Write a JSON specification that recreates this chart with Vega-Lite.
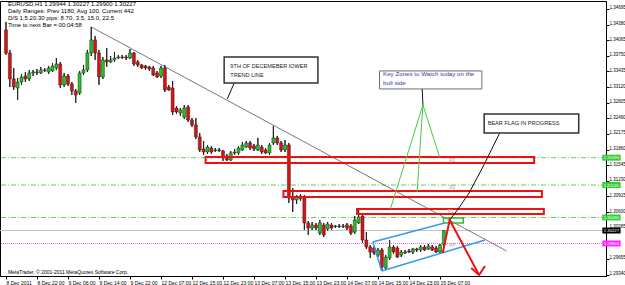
{
  "$schema": "https://vega.github.io/schema/vega-lite/v6.json",
  "width": 606,
  "height": 275,
  "autosize": {"type": "none"},
  "padding": {"left": 0, "top": 1, "right": 19, "bottom": 9},
  "background": "#ffffff",
  "config": {"font": "Liberation Sans", "view": {"stroke": "#000000", "strokeWidth": 1}, "axis": {"labelOverlap": false, "labelBound": false, "labelFlush": false}},
  "resolve": {"axis": {"x": "independent", "y": "independent"}},
  "datasets": {
    "candles": [
      {"i":0,"o":1.34272,"h":1.34433,"l":1.33768,"c":1.33808},
      {"i":1,"o":1.33808,"h":1.33869,"l":1.33122,"c":1.33284},
      {"i":2,"o":1.33284,"h":1.33505,"l":1.33062,"c":1.33122},
      {"i":3,"o":1.33102,"h":1.33304,"l":1.32860,"c":1.33223},
      {"i":4,"o":1.33223,"h":1.33384,"l":1.33163,"c":1.33324},
      {"i":5,"o":1.33344,"h":1.33425,"l":1.33223,"c":1.33284},
      {"i":6,"o":1.33284,"h":1.33465,"l":1.33243,"c":1.33405},
      {"i":7,"o":1.33405,"h":1.33465,"l":1.33344,"c":1.33425},
      {"i":8,"o":1.33425,"h":1.33485,"l":1.33364,"c":1.33415},
      {"i":9,"o":1.33405,"h":1.33526,"l":1.33384,"c":1.33465},
      {"i":10,"o":1.33465,"h":1.33505,"l":1.33425,"c":1.33455},
      {"i":11,"o":1.33425,"h":1.33546,"l":1.33384,"c":1.33505},
      {"i":12,"o":1.33445,"h":1.33606,"l":1.33425,"c":1.33546},
      {"i":13,"o":1.33505,"h":1.33707,"l":1.33465,"c":1.33586},
      {"i":14,"o":1.33586,"h":1.33626,"l":1.33102,"c":1.33163},
      {"i":15,"o":1.33163,"h":1.33405,"l":1.33122,"c":1.33344},
      {"i":16,"o":1.33344,"h":1.33384,"l":1.33142,"c":1.33183},
      {"i":17,"o":1.33183,"h":1.33223,"l":1.32961,"c":1.33042},
      {"i":18,"o":1.33042,"h":1.33082,"l":1.32800,"c":1.32961},
      {"i":19,"o":1.33001,"h":1.33445,"l":1.32961,"c":1.33405},
      {"i":20,"o":1.33405,"h":1.33566,"l":1.33364,"c":1.33465},
      {"i":21,"o":1.33465,"h":1.33869,"l":1.33425,"c":1.33808},
      {"i":22,"o":1.33808,"h":1.34332,"l":1.33747,"c":1.34070},
      {"i":23,"o":1.34070,"h":1.34151,"l":1.33667,"c":1.33808},
      {"i":24,"o":1.33808,"h":1.33869,"l":1.33163,"c":1.33324},
      {"i":25,"o":1.33324,"h":1.33727,"l":1.33284,"c":1.33667},
      {"i":26,"o":1.33667,"h":1.33909,"l":1.33526,"c":1.33626},
      {"i":27,"o":1.33626,"h":1.33747,"l":1.33606,"c":1.33667},
      {"i":28,"o":1.33667,"h":1.33828,"l":1.33626,"c":1.33707},
      {"i":29,"o":1.33707,"h":1.33768,"l":1.33687,"c":1.33727},
      {"i":30,"o":1.33727,"h":1.33768,"l":1.33687,"c":1.33717},
      {"i":31,"o":1.33727,"h":1.33768,"l":1.33667,"c":1.33707},
      {"i":32,"o":1.33707,"h":1.33889,"l":1.33687,"c":1.33808},
      {"i":33,"o":1.33808,"h":1.33828,"l":1.33546,"c":1.33586},
      {"i":34,"o":1.33626,"h":1.33667,"l":1.33526,"c":1.33566},
      {"i":35,"o":1.33566,"h":1.33586,"l":1.33485,"c":1.33505},
      {"i":36,"o":1.33546,"h":1.33566,"l":1.33465,"c":1.33505},
      {"i":37,"o":1.33526,"h":1.33546,"l":1.33445,"c":1.33485},
      {"i":38,"o":1.33505,"h":1.33546,"l":1.33344,"c":1.33364},
      {"i":39,"o":1.33405,"h":1.33445,"l":1.33304,"c":1.33324},
      {"i":40,"o":1.33344,"h":1.33546,"l":1.33304,"c":1.33505},
      {"i":41,"o":1.33505,"h":1.33566,"l":1.33021,"c":1.33062},
      {"i":42,"o":1.33122,"h":1.33163,"l":1.33042,"c":1.33062},
      {"i":43,"o":1.33102,"h":1.33243,"l":1.32557,"c":1.32618},
      {"i":44,"o":1.32699,"h":1.32739,"l":1.32578,"c":1.32618},
      {"i":45,"o":1.32598,"h":1.32699,"l":1.32537,"c":1.32658},
      {"i":46,"o":1.32517,"h":1.32759,"l":1.32477,"c":1.32699},
      {"i":47,"o":1.32719,"h":1.32759,"l":1.32416,"c":1.32457},
      {"i":48,"o":1.32457,"h":1.32497,"l":1.32315,"c":1.32356},
      {"i":49,"o":1.32356,"h":1.32497,"l":1.32073,"c":1.32114},
      {"i":50,"o":1.32114,"h":1.32194,"l":1.31811,"c":1.31852},
      {"i":51,"o":1.31872,"h":1.32033,"l":1.31751,"c":1.31811},
      {"i":52,"o":1.31811,"h":1.31952,"l":1.31771,"c":1.31912},
      {"i":53,"o":1.31892,"h":1.31932,"l":1.31771,"c":1.31811},
      {"i":54,"o":1.31841,"h":1.31892,"l":1.31811,"c":1.31852},
      {"i":55,"o":1.31852,"h":1.31892,"l":1.31811,"c":1.31841},
      {"i":56,"o":1.31831,"h":1.31852,"l":1.31630,"c":1.31690},
      {"i":57,"o":1.31731,"h":1.31771,"l":1.31630,"c":1.31650},
      {"i":58,"o":1.31650,"h":1.31831,"l":1.31630,"c":1.31791},
      {"i":59,"o":1.31811,"h":1.31872,"l":1.31751,"c":1.31791},
      {"i":60,"o":1.31791,"h":1.31932,"l":1.31751,"c":1.31892},
      {"i":61,"o":1.31852,"h":1.32013,"l":1.31831,"c":1.31952},
      {"i":62,"o":1.31912,"h":1.32033,"l":1.31892,"c":1.31993},
      {"i":63,"o":1.31993,"h":1.32033,"l":1.31852,"c":1.31892},
      {"i":64,"o":1.31932,"h":1.31973,"l":1.31831,"c":1.31872},
      {"i":65,"o":1.31852,"h":1.32094,"l":1.31831,"c":1.31952},
      {"i":66,"o":1.31912,"h":1.31952,"l":1.31771,"c":1.31811},
      {"i":67,"o":1.31852,"h":1.31892,"l":1.31771,"c":1.31791},
      {"i":68,"o":1.31791,"h":1.31993,"l":1.31751,"c":1.31952},
      {"i":69,"o":1.31993,"h":1.32336,"l":1.31952,"c":1.32094},
      {"i":70,"o":1.32094,"h":1.32134,"l":1.31952,"c":1.31993},
      {"i":71,"o":1.31993,"h":1.32033,"l":1.31811,"c":1.31852},
      {"i":72,"o":1.31852,"h":1.32053,"l":1.31811,"c":1.31952},
      {"i":73,"o":1.31952,"h":1.31993,"l":1.30783,"c":1.30883},
      {"i":74,"o":1.30904,"h":1.31085,"l":1.30601,"c":1.30843},
      {"i":75,"o":1.30843,"h":1.30944,"l":1.30762,"c":1.30904},
      {"i":76,"o":1.30863,"h":1.30964,"l":1.30823,"c":1.30924},
      {"i":77,"o":1.30904,"h":1.30944,"l":1.30238,"c":1.30379},
      {"i":78,"o":1.30379,"h":1.30419,"l":1.30137,"c":1.30278},
      {"i":79,"o":1.30278,"h":1.30399,"l":1.30238,"c":1.30339},
      {"i":80,"o":1.30339,"h":1.30379,"l":1.30238,"c":1.30278},
      {"i":81,"o":1.30177,"h":1.30440,"l":1.30137,"c":1.30379},
      {"i":82,"o":1.30339,"h":1.30379,"l":1.30097,"c":1.30137},
      {"i":83,"o":1.30258,"h":1.30399,"l":1.30218,"c":1.30359},
      {"i":84,"o":1.30339,"h":1.30379,"l":1.30238,"c":1.30278},
      {"i":85,"o":1.30308,"h":1.30339,"l":1.30278,"c":1.30319},
      {"i":86,"o":1.30319,"h":1.30359,"l":1.30278,"c":1.30308},
      {"i":87,"o":1.30308,"h":1.30359,"l":1.30278,"c":1.30319},
      {"i":88,"o":1.30339,"h":1.30379,"l":1.30238,"c":1.30278},
      {"i":89,"o":1.30319,"h":1.30359,"l":1.30137,"c":1.30177},
      {"i":90,"o":1.30198,"h":1.30520,"l":1.30157,"c":1.30440},
      {"i":91,"o":1.30379,"h":1.30641,"l":1.30359,"c":1.30500},
      {"i":92,"o":1.30520,"h":1.30581,"l":1.29976,"c":1.30036},
      {"i":93,"o":1.30036,"h":1.30198,"l":1.29855,"c":1.29895},
      {"i":94,"o":1.29895,"h":1.29935,"l":1.29673,"c":1.29794},
      {"i":95,"o":1.29875,"h":1.29915,"l":1.29734,"c":1.29774},
      {"i":96,"o":1.29734,"h":1.29875,"l":1.29693,"c":1.29835},
      {"i":97,"o":1.29835,"h":1.29875,"l":1.29431,"c":1.29492},
      {"i":98,"o":1.29471,"h":1.29734,"l":1.29431,"c":1.29693},
      {"i":99,"o":1.29673,"h":1.30036,"l":1.29633,"c":1.29895},
      {"i":100,"o":1.29895,"h":1.29935,"l":1.29754,"c":1.29794},
      {"i":101,"o":1.29875,"h":1.29915,"l":1.29673,"c":1.29693},
      {"i":102,"o":1.29734,"h":1.29835,"l":1.29693,"c":1.29794},
      {"i":103,"o":1.29774,"h":1.29835,"l":1.29754,"c":1.29794},
      {"i":104,"o":1.29814,"h":1.29855,"l":1.29774,"c":1.29794},
      {"i":105,"o":1.29794,"h":1.29875,"l":1.29754,"c":1.29855},
      {"i":106,"o":1.29855,"h":1.29875,"l":1.29794,"c":1.29835},
      {"i":107,"o":1.29835,"h":1.29935,"l":1.29794,"c":1.29895},
      {"i":108,"o":1.29895,"h":1.29935,"l":1.29814,"c":1.29835},
      {"i":109,"o":1.29855,"h":1.29956,"l":1.29835,"c":1.29915},
      {"i":110,"o":1.29895,"h":1.29935,"l":1.29814,"c":1.29835},
      {"i":111,"o":1.29875,"h":1.29915,"l":1.29774,"c":1.29794},
      {"i":112,"o":1.29794,"h":1.29956,"l":1.29754,"c":1.29935},
      {"i":113,"o":1.29944,"h":1.30227,"l":1.29900,"c":1.30227}
    ]
  },
  "layer": [
    {
      "data": {"name": "candles"},
      "mark": {"type": "rule", "color": "#222222", "strokeWidth": 1},
      "encoding": {
        "x": {
          "field": "i", "type": "quantitative",
          "scale": {"domain": [-0.254, 153.55], "nice": false, "zero": false},
          "axis": {
            "title": null, "grid": false,
            "values": [0, 8, 16, 24, 32, 40, 48, 56, 64, 72, 80, 88, 96, 104, 112],
            "labelExpr": "['8 Dec 2011','8 Dec 22:00','9 Dec 06:00','9 Dec 14:00','9 Dec 22:00','12 Dec 07:00','12 Dec 15:00','12 Dec 23:00','13 Dec 07:00','13 Dec 15:00','13 Dec 23:00','14 Dec 07:00','14 Dec 15:00','14 Dec 23:00','15 Dec 07:00'][datum.value/8]",
            "labelAlign": "left", "labelDx": 1, "labelPadding": 1, "labelFontSize": 5, "labelFont": "Liberation Sans",
            "labelColor": "#000000", "tickColor": "#000000", "domainColor": "#000000", "tickSize": 3,
            "labelBound": false, "labelOverlap": false, "labelFlush": false
          }
        },
        "y": {
          "field": "l", "type": "quantitative",
          "scale": {"domain": [1.29310, 1.34856], "nice": false, "zero": false},
          "axis": {
            "orient": "right", "title": null, "grid": false,
            "values": [1.2934, 1.29655, 1.30285, 1.306, 1.30915, 1.3123, 1.31545, 1.3186, 1.32175, 1.3249, 1.32805, 1.3312, 1.33435, 1.3375, 1.34065, 1.3438, 1.34695],
            "format": ".5f", "labelFontSize": 4.5, "labelFont": "Liberation Sans", "labelPadding": 0, "labelOffset": -1,
            "labelColor": "#000000", "tickColor": "#000000", "domainColor": "#000000", "tickSize": 3,
            "labelBound": false, "labelOverlap": false, "labelFlush": false
          }
        },
        "y2": {"field": "h"}
      }
    },
    {
      "data": {"values": [{"p": 1.31696}, {"p": 1.31145}, {"p": 1.30490}]},
      "mark": {"type": "rule", "color": "#5fcf5f", "strokeWidth": 1, "strokeDash": [5, 2, 1, 2]},
      "encoding": {"y": {"field": "p", "type": "quantitative", "axis": null}}
    },
    {
      "data": {"values": [{"p": 1.30227}]},
      "mark": {"type": "rule", "color": "#c4c4c4", "strokeWidth": 1},
      "encoding": {"y": {"field": "p", "type": "quantitative", "axis": null}}
    },
    {
      "data": {"values": [{"p": 1.29966}]},
      "mark": {"type": "rule", "color": "#ff55ff", "strokeWidth": 1, "strokeDash": [1, 1]},
      "encoding": {"y": {"field": "p", "type": "quantitative", "axis": null}}
    },
    {
      "data": {"values": [{"i": 22, "p": 1.34332}, {"i": 129.2, "p": 1.29814}]},
      "mark": {"type": "line", "color": "#555555", "strokeWidth": 0.8},
      "encoding": {
        "x": {"field": "i", "type": "quantitative", "axis": null},
        "y": {"field": "p", "type": "quantitative", "axis": null}
      }
    },
    {
      "data": {"name": "candles"},
      "mark": {"type": "rule", "color": "#222222", "strokeWidth": 1},
      "encoding": {
        "x": {"field": "i", "type": "quantitative", "axis": null},
        "y": {"field": "l", "type": "quantitative", "axis": null},
        "y2": {"field": "h"}
      }
    },
    {
      "data": {"name": "candles"},
      "mark": {"type": "bar", "orient": "vertical", "size": 3, "stroke": "#222222", "strokeWidth": 0.5},
      "encoding": {
        "x": {"field": "i", "type": "quantitative", "axis": null},
        "y": {"field": "o", "type": "quantitative", "axis": null},
        "y2": {"field": "c"},
        "color": {"condition": {"test": "datum.c >= datum.o", "value": "#22c322"}, "value": "#e01010"}
      }
    },
    {
      "data": {"values": [
        {"x1": 51.5, "x2": 136.3, "p1": 1.31711, "p2": 1.31590},
        {"x1": 71.6, "x2": 138.3, "p1": 1.31025, "p2": 1.30904},
        {"x1": 90.6, "x2": 138.8, "p1": 1.30661, "p2": 1.30561}
      ]},
      "mark": {"type": "rect", "fillOpacity": 0, "fill": "#ffffff", "stroke": "#ee1111", "strokeWidth": 2},
      "encoding": {
        "x": {"field": "x1", "type": "quantitative", "axis": null},
        "x2": {"field": "x2"},
        "y": {"field": "p1", "type": "quantitative", "axis": null},
        "y2": {"field": "p2"}
      }
    },
    {
      "data": {"values": [{"x1": 112.9, "x2": 118.0, "p1": 1.30480, "p2": 1.30379}]},
      "mark": {"type": "rect", "fillOpacity": 0, "fill": "#ffffff", "stroke": "#33bb33", "strokeWidth": 1.5},
      "encoding": {
        "x": {"field": "x1", "type": "quantitative", "axis": null},
        "x2": {"field": "x2"},
        "y": {"field": "p1", "type": "quantitative", "axis": null},
        "y2": {"field": "p2"}
      }
    },
    {
      "data": {"values": [
        {"s": "upper", "k": 0, "i": 94.67, "p": 1.29996},
        {"s": "upper", "k": 1, "i": 113.2, "p": 1.30379},
        {"s": "lower", "k": 0, "i": 96.95, "p": 1.29411},
        {"s": "lower", "k": 1, "i": 123.6, "p": 1.30036},
        {"s": "left", "k": 0, "i": 94.67, "p": 1.29996},
        {"s": "left", "k": 1, "i": 96.95, "p": 1.29411}
      ]},
      "mark": {"type": "line", "color": "#3399ee", "strokeWidth": 1.5},
      "encoding": {
        "x": {"field": "i", "type": "quantitative", "axis": null},
        "y": {"field": "p", "type": "quantitative", "axis": null},
        "detail": {"field": "s"},
        "order": {"field": "k"}
      }
    },
    {
      "data": {"values": [
        {"s": "a", "k": 0, "i": 107.6, "p": 1.32759},
        {"s": "a", "k": 1, "i": 99.2, "p": 1.30661},
        {"s": "b", "k": 0, "i": 107.6, "p": 1.32759},
        {"s": "b", "k": 1, "i": 106.1, "p": 1.31005},
        {"s": "c", "k": 0, "i": 107.6, "p": 1.32759},
        {"s": "c", "k": 1, "i": 111.9, "p": 1.31711}
      ]},
      "mark": {"type": "line", "color": "#44cc44", "strokeWidth": 1},
      "encoding": {
        "x": {"field": "i", "type": "quantitative", "axis": null},
        "y": {"field": "p", "type": "quantitative", "axis": null},
        "detail": {"field": "s"},
        "order": {"field": "k"}
      }
    },
    {
      "data": {"values": [
        {"s": "kz", "k": 0, "i": 107.4, "p": 1.33082},
        {"s": "kz", "k": 1, "i": 107.6, "p": 1.32759},
        {"s": "tl", "k": 0, "i": 58.9, "p": 1.33203},
        {"s": "tl", "k": 1, "i": 57.1, "p": 1.32880},
        {"s": "bf", "k": 0, "i": 127.4, "p": 1.32194},
        {"s": "bf", "k": 1, "i": 123.6, "p": 1.31589},
        {"s": "bf", "k": 2, "i": 119.5, "p": 1.30984},
        {"s": "bf", "k": 3, "i": 116.5, "p": 1.30641},
        {"s": "bf", "k": 4, "i": 114.5, "p": 1.30440}
      ]},
      "mark": {"type": "line", "color": "#111111", "strokeWidth": 1},
      "encoding": {
        "x": {"field": "i", "type": "quantitative", "axis": null},
        "y": {"field": "p", "type": "quantitative", "axis": null},
        "detail": {"field": "s"},
        "order": {"field": "k"}
      }
    },
    {
      "data": {"values": [
        {"s": "a", "k": 0, "i": 112.7, "p": 1.29774},
        {"s": "a", "k": 1, "i": 114.5, "p": 1.30440},
        {"s": "a", "k": 2, "i": 122.1, "p": 1.29330},
        {"s": "w", "k": 0, "i": 120.05, "p": 1.29471},
        {"s": "w", "k": 1, "i": 122.1, "p": 1.29330},
        {"s": "w", "k": 2, "i": 123.6, "p": 1.29512}
      ]},
      "mark": {"type": "line", "color": "#ee1111", "strokeWidth": 2},
      "encoding": {
        "x": {"field": "i", "type": "quantitative", "axis": null},
        "y": {"field": "p", "type": "quantitative", "axis": null},
        "detail": {"field": "s"},
        "order": {"field": "k"}
      }
    },
    {
      "data": {"values": [
        {"x1": 56.3, "x2": 80.5, "p1": 1.33727, "p2": 1.33203},
        {"x1": 123.4, "x2": 147.8, "p1": 1.32578, "p2": 1.32194}
      ]},
      "mark": {"type": "rect", "fill": "#ffffff", "stroke": "#333333", "strokeWidth": 1.5},
      "encoding": {
        "x": {"field": "x1", "type": "quantitative", "axis": null},
        "x2": {"field": "x2"},
        "y": {"field": "p1", "type": "quantitative", "axis": null},
        "y2": {"field": "p2"}
      }
    },
    {
      "data": {"values": [{"x1": 96.4, "x2": 122.8, "p1": 1.33445, "p2": 1.33082}]},
      "mark": {"type": "rect", "fill": "#ffffff", "stroke": "#6a6a7a", "strokeWidth": 1},
      "encoding": {
        "x": {"field": "x1", "type": "quantitative", "axis": null},
        "x2": {"field": "x2"},
        "y": {"field": "p1", "type": "quantitative", "axis": null},
        "y2": {"field": "p2"}
      }
    },
    {
      "data": {"values": [
        {"i": 57.9, "p": 1.33546, "t": "9TH OF DECEMEBER lOWER"},
        {"i": 57.9, "p": 1.33364, "t": "TREND LINE"},
        {"i": 124.3, "p": 1.32386, "t": "BEAR FLAG IN PROGRESS"}
      ]},
      "mark": {"type": "text", "align": "left", "baseline": "middle", "fontSize": 5.6, "color": "#222222", "font": "Liberation Sans"},
      "encoding": {
        "x": {"field": "i", "type": "quantitative", "axis": null},
        "y": {"field": "p", "type": "quantitative", "axis": null},
        "text": {"field": "t"}
      }
    },
    {
      "data": {"values": [
        {"i": 97.3, "p": 1.33374, "t": "Key Zones to Watch today on the"},
        {"i": 97.3, "p": 1.33203, "t": "bull side"}
      ]},
      "mark": {"type": "text", "align": "left", "baseline": "middle", "fontSize": 6.2, "color": "#3a3a9a", "font": "Liberation Sans"},
      "encoding": {
        "x": {"field": "i", "type": "quantitative", "axis": null},
        "y": {"field": "p", "type": "quantitative", "axis": null},
        "text": {"field": "t"}
      }
    },
    {
      "data": {"values": [
        {"i": 0.5, "p": 1.34786, "t": "EURUSD,H1  1.29944 1.30227 1.29900 1.30227"},
        {"i": 0.5, "p": 1.34645, "t": "Daily Ranges:  Prev 1180,  Avg 100,  Current 442"},
        {"i": 0.5, "p": 1.34504, "t": "D/S 1.5.20.30 pips:  8.70,  3.5,  15.0,  22.5"},
        {"i": 0.5, "p": 1.34363, "t": "Time to next Bar = 00:04:58"}
      ]},
      "mark": {"type": "text", "align": "left", "baseline": "middle", "fontSize": 6, "color": "#000000", "font": "Liberation Sans"},
      "encoding": {
        "x": {"field": "i", "type": "quantitative", "axis": null},
        "y": {"field": "p", "type": "quantitative", "axis": null},
        "text": {"field": "t"}
      }
    },
    {
      "data": {"values": [
        {"i": 0.5, "p": 1.29381, "t": "MetaTrader, © 2001-2011 MetaQuotes Software Corp."}
      ]},
      "mark": {"type": "text", "align": "left", "baseline": "middle", "fontSize": 5, "color": "#000000", "font": "Liberation Sans"},
      "encoding": {
        "x": {"field": "i", "type": "quantitative", "axis": null},
        "y": {"field": "p", "type": "quantitative", "axis": null},
        "text": {"field": "t"}
      }
    },
    {
      "data": {"values": [
        {"i": 114.4, "p": 1.31630, "t": "R3"},
        {"i": 114.4, "p": 1.31080, "t": "R2"},
        {"i": 114.0, "p": 1.30600, "t": "R1"},
        {"i": 114.4, "p": 1.29910, "t": "PP"}
      ]},
      "mark": {"type": "text", "align": "left", "baseline": "middle", "fontSize": 4.5, "color": "#a0a0a0", "font": "Liberation Sans"},
      "encoding": {
        "x": {"field": "i", "type": "quantitative", "axis": null},
        "y": {"field": "p", "type": "quantitative", "axis": null},
        "text": {"field": "t"}
      }
    },
    {
      "data": {"values": [
        {"x1": 153.9, "x2": 158.6, "p1": 1.31756, "p2": 1.31636, "k": "g"},
        {"x1": 153.9, "x2": 158.6, "p1": 1.31205, "p2": 1.31085, "k": "g"},
        {"x1": 153.9, "x2": 158.6, "p1": 1.30550, "p2": 1.30430, "k": "g"},
        {"x1": 153.9, "x2": 158.6, "p1": 1.30287, "p2": 1.30167, "k": "b"},
        {"x1": 153.9, "x2": 158.6, "p1": 1.30026, "p2": 1.29906, "k": "m"}
      ]},
      "mark": {"type": "rect", "clip": false},
      "encoding": {
        "x": {"field": "x1", "type": "quantitative", "axis": null},
        "x2": {"field": "x2"},
        "y": {"field": "p1", "type": "quantitative", "axis": null},
        "y2": {"field": "p2"},
        "color": {"field": "k", "type": "nominal", "legend": null, "scale": {"domain": ["g", "b", "m"], "range": ["#33cc33", "#000000", "#ff22ff"]}}
      }
    },
    {
      "data": {"values": [
        {"x1": 153.9, "p": 1.31696, "t": "1.31696"},
        {"x1": 153.9, "p": 1.31145, "t": "1.31145"},
        {"x1": 153.9, "p": 1.30490, "t": "1.30490"},
        {"x1": 153.9, "p": 1.30227, "t": "1.30227"},
        {"x1": 153.9, "p": 1.29966, "t": "1.29966"}
      ]},
      "mark": {"type": "text", "align": "left", "baseline": "middle", "fontSize": 4.2, "color": "#ffffff", "font": "Liberation Sans", "dx": 1.5, "dy": 0.5},
      "encoding": {
        "x": {"field": "x1", "type": "quantitative", "axis": null},
        "y": {"field": "p", "type": "quantitative", "axis": null},
        "text": {"field": "t"}
      }
    }
  ]
}
